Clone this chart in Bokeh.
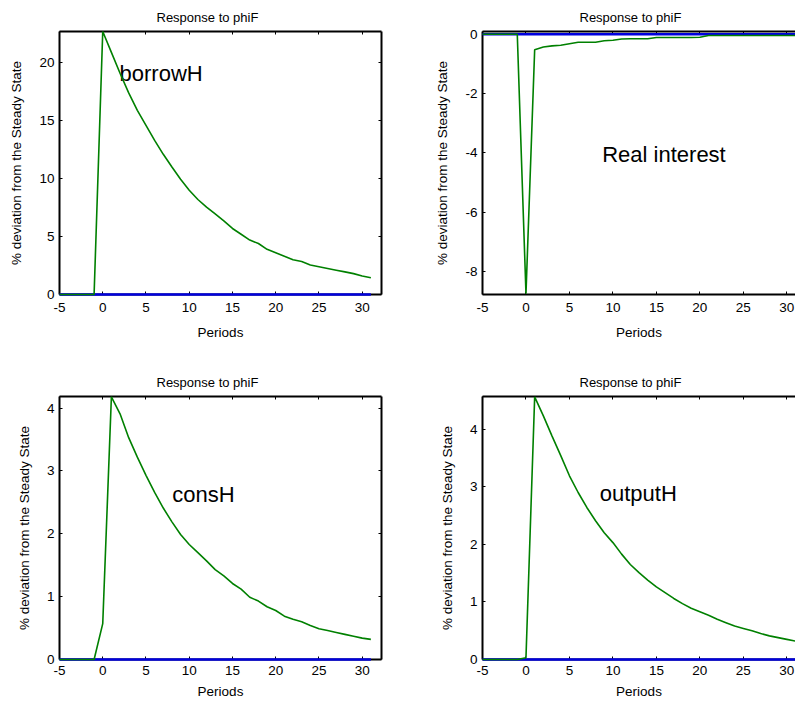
from bokeh.plotting import figure
from bokeh.models import LinearAxis, FixedTicker, Range1d
from bokeh.layouts import column, row
from bokeh.embed import file_html
from bokeh.resources import INLINE
from bokeh.core.properties import value

# ---------------- data ----------------
periods = list(range(-5, 32))
steady = [0.0] * len(periods)

borrowH = [0, 0, 0, 0, 0,
           22.7, 20.9, 19.1, 17.4, 15.9, 14.6, 13.3, 12.1, 11.0, 9.95,
           9.0, 8.2, 7.55, 6.95, 6.35, 5.7, 5.2, 4.7, 4.4, 3.9,
           3.6, 3.3, 3.0, 2.85, 2.55, 2.4, 2.25, 2.1, 1.95, 1.8,
           1.6, 1.45]

real_interest = [0, 0, 0, 0, 0,
                 -8.75, -0.52, -0.43, -0.39, -0.37, -0.32, -0.27, -0.27, -0.27, -0.22,
                 -0.20, -0.16, -0.15, -0.15, -0.15, -0.11, -0.11, -0.11, -0.11, -0.11,
                 -0.10, -0.04, -0.04, -0.04, -0.04, -0.04, -0.04, -0.04, -0.04, -0.04,
                 -0.04, -0.04]

consH = [0, 0, 0, 0, 0,
         0.57, 4.18, 3.91, 3.53, 3.22, 2.93, 2.66, 2.41, 2.19, 1.99,
         1.83, 1.70, 1.57, 1.43, 1.33, 1.21, 1.12, 0.99, 0.93, 0.84,
         0.78, 0.69, 0.64, 0.60, 0.54, 0.49, 0.46, 0.43, 0.40, 0.37,
         0.34, 0.32]

outputH = [0, 0, 0, 0, 0,
           0.03, 4.56, 4.23, 3.88, 3.54, 3.19, 2.90, 2.64, 2.41, 2.20,
           2.03, 1.83, 1.65, 1.51, 1.38, 1.26, 1.16, 1.06, 0.97, 0.89,
           0.83, 0.77, 0.70, 0.64, 0.58, 0.54, 0.50, 0.45, 0.41, 0.38,
           0.35, 0.32]

x_ticks = [-5, 0, 5, 10, 15, 20, 25, 30]
borrow_ticks = [0, 5, 10, 15, 20]
real_ticks = [-8, -6, -4, -2, 0]
small_ticks = [0, 1, 2, 3, 4]

title_text = "Response to phiF"
x_label = "Periods"
y_label = "% deviation from the Steady State"

# annotation texts and anchor (data) positions
names = ["borrowH", "Real interest", "consH", "outputH"]
name_x = [1.94, 8.77, 8.03, 8.49]
name_y = [19.1, -4.07, 2.625, 2.875]

FONT = "Liberation Sans"
GREEN = "#008000"
BLUE = "#0000dd"


def style_axis(ax, ticks, show_labels=True):
    ax.axis_line_color = "black"
    ax.axis_line_width = 2
    ax.major_tick_in = 3
    ax.major_tick_out = 0
    ax.minor_tick_in = 0
    ax.minor_tick_out = 0
    ax.major_tick_line_color = "black"
    ax.major_tick_line_width = 1
    if show_labels:
        ax.major_label_overrides = {t: str(t) for t in ticks}
        ax.major_label_text_font = FONT
        ax.major_label_text_font_size = "13.5px"
        ax.major_label_text_color = "black"
        ax.axis_label_text_font = FONT
        ax.axis_label_text_font_size = "13.5px"
        ax.axis_label_text_font_style = "normal"
        ax.axis_label_text_color = "black"
    else:
        ax.major_label_overrides = {t: "" for t in ticks}
        ax.major_label_text_font_size = "0px"
        ax.major_label_standoff = 0


def make_panel(width, height, xr, yr, yticks, data, idx,
               mb_left, mb_right, mb_top, mb_bottom, right_axis, compact):
    p = figure(width=width, height=height,
               x_range=Range1d(*xr), y_range=Range1d(*yr),
               output_backend="svg", toolbar_location=None,
               x_axis_location=None, y_axis_location=None,
               min_border_left=mb_left, min_border_right=mb_right,
               min_border_top=mb_top, min_border_bottom=mb_bottom,
               background_fill_color="white", border_fill_color="white")
    p.outline_line_color = None
    p.grid.visible = False

    p.title.text = title_text
    p.title.align = "left"
    p.title.offset = 97
    p.title.text_font = FONT
    p.title.text_font_size = "13px"
    p.title.text_font_style = "normal"
    p.title.text_color = "black"
    p.title.standoff = 14

    xb = LinearAxis(ticker=FixedTicker(ticks=x_ticks), axis_label=x_label)
    style_axis(xb, x_ticks)
    if compact:
        xb.major_label_standoff = 6
        xb.axis_label_standoff = 6
    else:
        xb.major_label_standoff = 8
        xb.axis_label_standoff = 10
    p.add_layout(xb, "below")

    yl = LinearAxis(ticker=FixedTicker(ticks=yticks), axis_label=y_label)
    style_axis(yl, yticks)
    yl.major_label_standoff = 5
    yl.axis_label_standoff = 12
    p.add_layout(yl, "left")

    xt = LinearAxis(ticker=FixedTicker(ticks=x_ticks))
    style_axis(xt, x_ticks, show_labels=False)
    p.add_layout(xt, "above")

    if right_axis:
        yr_ax = LinearAxis(ticker=FixedTicker(ticks=yticks))
        style_axis(yr_ax, yticks, show_labels=False)
        p.add_layout(yr_ax, "right")

    r1 = p.line(periods, steady, line_color=BLUE, line_width=2.5)
    r2 = p.line(periods, data, line_color=GREEN, line_width=1.6)
    r1.level = "overlay"
    r2.level = "overlay"
    p.text(x=[name_x[idx]], y=[name_y[idx]], text=[names[idx]],
           text_font=value(FONT), text_font_size=value("22px"),
           text_align="left", text_baseline="alphabetic", text_color="black")
    return p


p1 = make_panel(420, 365, (-5, 32.23), (0, 22.7), borrow_ticks, borrowH, 0,
                59, 39, 31, 71, True, False)
p2 = make_panel(375, 365, (-5, 31.0), (-8.776, 0.094), real_ticks, real_interest, 1,
                62, 0, 31, 71, False, False)
p3 = make_panel(420, 341, (-5, 32.23), (0, 4.185), small_ticks, consH, 2,
                59, 39, 31, 47, True, True)
p4 = make_panel(375, 341, (-5, 31.0), (0, 4.567), small_ticks, outputH, 3,
                62, 0, 31, 47, False, True)

layout = column(row(p1, p2), row(p3, p4))

open("out.html", "w").write(file_html(layout, INLINE))
